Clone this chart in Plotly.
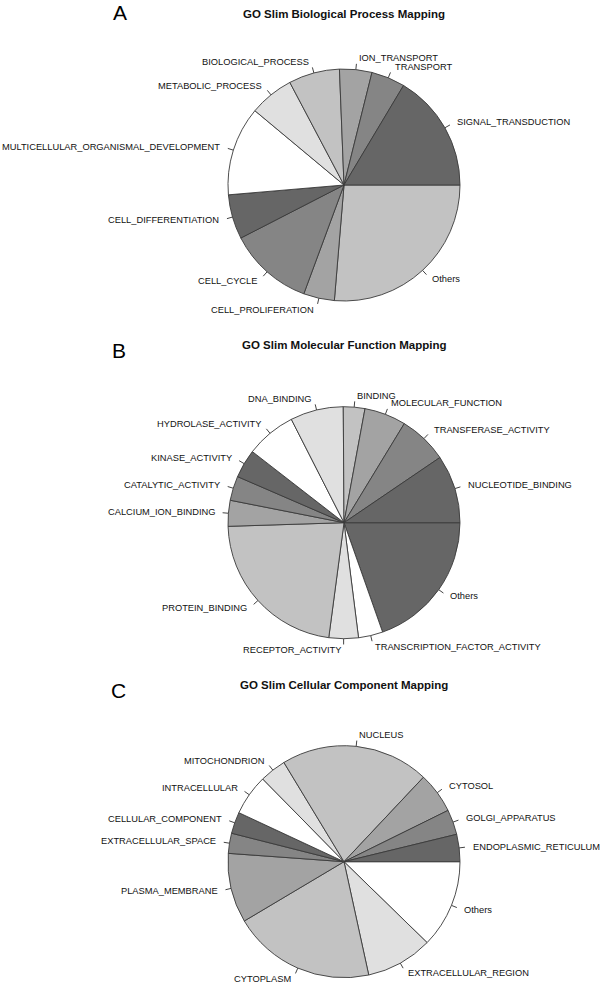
import math
import plotly.graph_objects as go

# ---------------- data ----------------
bp_labels = ["SIGNAL_TRANSDUCTION", "TRANSPORT", "ION_TRANSPORT", "BIOLOGICAL_PROCESS",
             "METABOLIC_PROCESS", "MULTICELLULAR_ORGANISMAL_DEVELOPMENT",
             "CELL_DIFFERENTIATION", "CELL_CYCLE", "CELL_PROLIFERATION", "Others"]
bp_values = [16.4, 4.7, 4.5, 7.1, 6.2, 12.4, 6.2, 11.8, 4.3, 26.3]

mf_labels = ["NUCLEOTIDE_BINDING", "TRANSFERASE_ACTIVITY", "MOLECULAR_FUNCTION", "BINDING",
             "DNA_BINDING", "HYDROLASE_ACTIVITY", "KINASE_ACTIVITY", "CATALYTIC_ACTIVITY",
             "CALCIUM_ION_BINDING", "PROTEIN_BINDING", "RECEPTOR_ACTIVITY",
             "TRANSCRIPTION_FACTOR_ACTIVITY", "Others"]
mf_values = [9.5, 6.8, 5.8, 3.0, 7.4, 7.0, 4.0, 3.4, 3.6, 22.4, 4.1, 3.4, 19.6]

cc_labels = ["ENDOPLASMIC_RETICULUM", "GOLGI_APPARATUS", "CYTOSOL", "NUCLEUS",
             "MITOCHONDRION", "INTRACELLULAR", "CELLULAR_COMPONENT", "EXTRACELLULAR_SPACE",
             "PLASMA_MEMBRANE", "CYTOPLASM", "EXTRACELLULAR_REGION", "Others"]
cc_values = [3.8, 3.5, 5.7, 20.7, 3.7, 5.7, 3.0, 2.8, 9.7, 19.9, 9.3, 12.3]

panel_letters = ["A", "B", "C"]
panel_titles = ["GO Slim Biological Process Mapping",
                "GO Slim Molecular Function Mapping",
                "GO Slim Cellular Component Mapping"]

# ---------------- styling / layout ----------------
W, H = 600, 983
grays = ["#666666", "#858585", "#A3A3A3", "#C2C2C2", "#E0E0E0", "#FFFFFF"]
R = 116
centers = [(344, 185), (344, 522.7), (344, 861.7)]   # page pixels
title_y = [14, 345, 685]
letter_pos = [(120, 12), (119, 350), (118, 690)]
LABEL_FONT = dict(family="Liberation Sans, Arial", size=9.3, color="#111111")

def px2paper(x, y):
    return x / W, 1 - y / H

fig = go.Figure()
annotations = []
shapes = []

panels = [(bp_labels, bp_values), (mf_labels, mf_values), (cc_labels, cc_values)]
for i, (labs, vals) in enumerate(panels):
    cx, cy = centers[i]
    x0, y1 = px2paper(cx - R, cy - R)
    x1, y0 = px2paper(cx + R, cy + R)
    colors = [grays[k % len(grays)] for k in range(len(vals))]
    # R draws counterclockwise from 3 o'clock; equivalent: reversed order, clockwise from 3 o'clock
    fig.add_trace(go.Pie(
        labels=labs[::-1], values=vals[::-1], sort=False, direction="clockwise",
        rotation=90, textinfo="none", showlegend=False, hoverinfo="label+value",
        marker=dict(colors=colors[::-1], line=dict(color="#3a3a3a", width=0.9)),
        domain=dict(x=[x0, x1], y=[y0, y1]),
    ))
    total = sum(vals)
    cum = 0.0
    for lab, v in zip(labs, vals):
        a0 = 2 * math.pi * cum / total
        cum += v
        a1 = 2 * math.pi * cum / total
        mid = (a0 + a1) / 2
        c, s = math.cos(mid), math.sin(mid)
        ax0, ay0 = px2paper(cx + R * c, cy - R * s)
        ax1, ay1 = px2paper(cx + 1.05 * R * c, cy - 1.05 * R * s)
        shapes.append(dict(type="line", xref="paper", yref="paper",
                           x0=ax0, y0=ay0, x1=ax1, y1=ay1,
                           line=dict(color="#444444", width=1)))
        tx, ty = px2paper(cx + 1.1 * R * c, cy - 1.1 * R * s)
        annotations.append(dict(x=tx, y=ty, xref="paper", yref="paper", text=lab,
                                showarrow=False, xanchor="left" if c >= 0 else "right",
                                yanchor="middle", font=LABEL_FONT))
    tx, ty = px2paper(cx, title_y[i])
    annotations.append(dict(x=tx, y=ty, xref="paper", yref="paper",
                            text="<b>" + panel_titles[i] + "</b>", showarrow=False,
                            xanchor="center", yanchor="middle",
                            font=dict(family="Liberation Sans, Arial", size=11.5, color="#111111")))
    lx, ly = px2paper(*letter_pos[i])
    annotations.append(dict(x=lx, y=ly, xref="paper", yref="paper", text=panel_letters[i],
                            showarrow=False, xanchor="center", yanchor="middle",
                            font=dict(family="Liberation Sans, Arial", size=21, color="#000000")))

fig.update_layout(width=W, height=H, autosize=False,
                  margin=dict(l=0, r=0, t=0, b=0),
                  paper_bgcolor="white", plot_bgcolor="white",
                  annotations=annotations, shapes=shapes)
# remove the browser's default 8px body margin so the figure fills the window exactly
fig.write_html("out.html", config={"displayModeBar": False},
               post_script="document.body.style.margin='0';document.body.style.overflow='hidden';")
